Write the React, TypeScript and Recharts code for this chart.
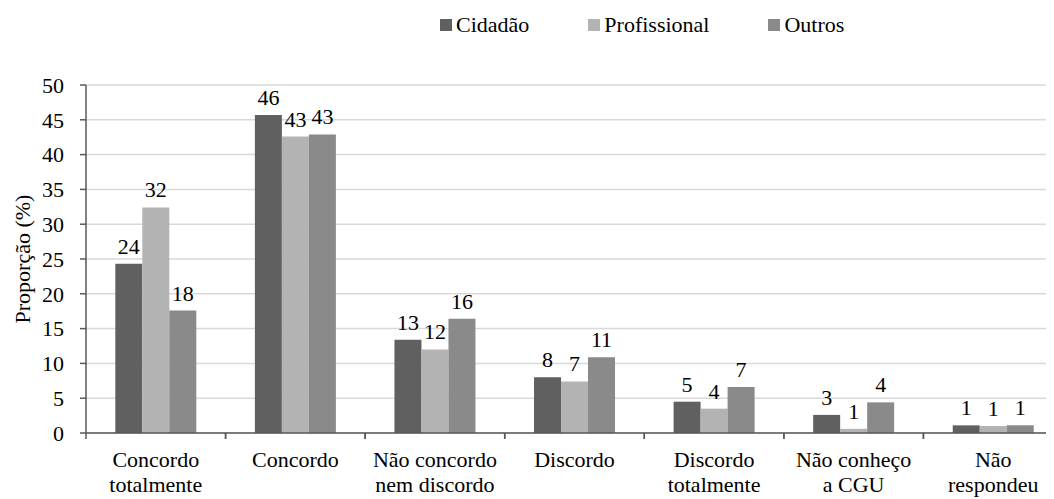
import { BarChart, Bar, XAxis, YAxis, CartesianGrid, Legend, LabelList } from 'recharts';

const categories = [
  'Concordo\ntotalmente',
  'Concordo',
  'Não concordo\nnem discordo',
  'Discordo',
  'Discordo\ntotalmente',
  'Não conheço\na CGU',
  'Não\nrespondeu',
];
const cidadao = [24.3, 45.7, 13.4, 8.0, 4.5, 2.6, 1.1];
const profissional = [32.4, 42.6, 12.0, 7.4, 3.5, 0.6, 1.0];
const outros = [17.6, 42.9, 16.4, 10.9, 6.6, 4.4, 1.1];
const yTicks = [0, 5, 10, 15, 20, 25, 30, 35, 40, 45, 50];

const series = [
  { key: 'cidadao', name: 'Cidadão', color: '#606060' },
  { key: 'profissional', name: 'Profissional', color: '#b3b3b3' },
  { key: 'outros', name: 'Outros', color: '#8a8a8a' },
];

const data = categories.map((category, i) => ({
  category,
  cidadao: cidadao[i],
  profissional: profissional[i],
  outros: outros[i],
}));

const FONT = 'Liberation Serif, DejaVu Serif, serif';
const AXIS = '#595959';

function CategoryTick({ x, y, payload }: any) {
  const lines = String(payload.value).split('\n');
  const half = payload.offset || 70;
  return (
    <g>
      <line x1={x - half} x2={x - half} y1={y} y2={y + 6} stroke={AXIS} strokeWidth={1.5} />
      <line x1={x + half} x2={x + half} y1={y} y2={y + 6} stroke={AXIS} strokeWidth={1.5} />
      {lines.map((line, i) => (
        <text
          key={i}
          x={x}
          y={y + 34 + i * 25}
          textAnchor="middle"
          style={{ fontSize: 22, fontFamily: FONT }}
          fill="#000"
        >
          {line}
        </text>
      ))}
    </g>
  );
}

function LegendContent() {
  return (
    <div style={{ display: 'flex', alignItems: 'center', gap: 59, fontFamily: FONT, fontSize: 22 }}>
      {series.map((s) => (
        <div key={s.key} style={{ display: 'flex', alignItems: 'center' }}>
          <span style={{ width: 12, height: 12, background: s.color, marginRight: 4, display: 'inline-block' }} />
          <span style={{ color: '#000' }}>{s.name}</span>
        </div>
      ))}
    </div>
  );
}

export default function App() {
  return (
    <div style={{ width: 1046, height: 491, overflow: 'hidden', position: 'relative', fontFamily: FONT }}>
      <BarChart
        width={1060}
        height={491}
        data={data}
        margin={{ top: 77, right: 5, left: 0, bottom: 0 }}
        barCategoryGap="21%"
        barGap={0}
        style={{ fontFamily: FONT }}
      >
        <CartesianGrid vertical={false} stroke="#d9d9d9" strokeWidth={1.5} />
        <XAxis
          dataKey="category"
          interval={0}
          height={66}
          axisLine={{ stroke: AXIS, strokeWidth: 1.5 }}
          tickLine={false}
          tickSize={0}
          tickMargin={0}
          tick={<CategoryTick />}
        />
        <YAxis
          width={78}
          domain={[0, 50]}
          ticks={yTicks}
          interval={0}
          axisLine={{ stroke: AXIS, strokeWidth: 1.5 }}
          tickLine={{ stroke: AXIS, strokeWidth: 1.5 }}
          tickSize={6}
          tickMargin={16}
          tick={{ fill: '#000', fontSize: 22, fontFamily: FONT }}
          label={{
            value: 'Proporção (%)',
            angle: -90,
            position: 'center',
            dx: -25,
            fill: '#000',
            fontSize: 22,
            fontFamily: FONT,
          }}
        />
        <Legend
          layout="horizontal"
          verticalAlign="middle"
          align="center"
          wrapperStyle={{ top: 4, left: 432, width: 'auto' }}
          content={<LegendContent />}
        />
        {series.map((s) => (
          <Bar key={s.key} dataKey={s.key} name={s.name} fill={s.color} isAnimationActive={false}>
            <LabelList
              dataKey={s.key}
              position="top"
              offset={10}
              fill="#000"
              fontSize={22}
              fontFamily={FONT}
              formatter={(v: any) => Math.round(Number(v))}
            />
          </Bar>
        ))}
      </BarChart>
    </div>
  );
}
